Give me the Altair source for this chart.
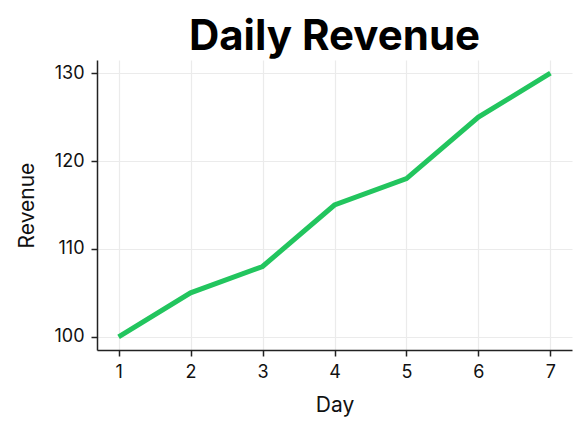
import altair as alt
import pandas as pd

days = [1, 2, 3, 4, 5, 6, 7]
revenue = [100, 105, 108, 115, 118, 125, 130]

df = pd.DataFrame({"Day": days, "Revenue": revenue})

FONT = "Inter"

chart = alt.Chart(df).mark_line(color="#22c55e", strokeWidth=5, strokeCap="butt").encode(
    x=alt.X("Day:Q", scale=alt.Scale(domain=[0.7, 7.3], nice=False, zero=False),
            axis=alt.Axis(values=days, title="Day", format="d")),
    y=alt.Y("Revenue:Q", scale=alt.Scale(domain=[98.5, 131.5], nice=False, zero=False),
            axis=alt.Axis(values=[100, 110, 120, 130], title="Revenue")),
).properties(
    width=475, height=290,
    title=alt.TitleParams("Daily Revenue", fontSize=42, font=FONT, fontWeight="bold",
                          color="#000000", anchor="middle", offset=1),
    autosize=alt.AutoSizeParams(type="none"),
    padding={"left": 89, "top": 52, "right": 6, "bottom": 78},
).configure_view(stroke=None).configure_axis(
    labelFont=FONT, titleFont=FONT, labelFontSize=18, titleFontSize=21,
    labelColor="#111111", titleColor="#111111", titleFontWeight="normal",
    domainColor="#222222", domainWidth=1.5, tickColor="#222222", tickWidth=1.5,
    tickSize=6, gridColor="#ebebeb", gridWidth=1.2, labelPadding=7,
).configure_axisX(titlePadding=13).configure_axisY(titlePadding=16)

chart.save("out.html", embed_options={"renderer": "svg", "actions": False})
